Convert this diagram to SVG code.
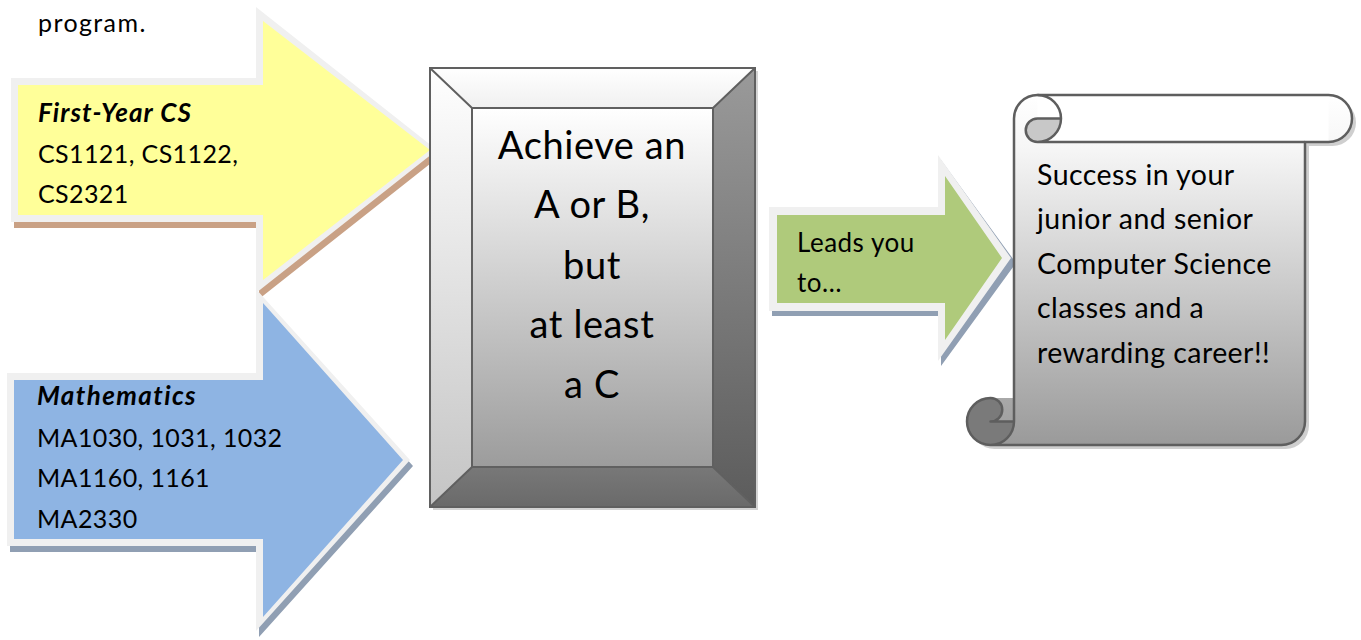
<svg xmlns="http://www.w3.org/2000/svg" width="1361" height="640" viewBox="0 0 1361 640">
<style>
text{font-family:Lato,"Liberation Sans",sans-serif;fill:#000}
.t24{font-size:25px;letter-spacing:0.4px}
.bi{font-weight:bold;font-style:italic;font-size:26px;letter-spacing:1.1px}
.g{font-size:26px;letter-spacing:0.5px}
.border{fill:#f0f0f0}
.c{text-anchor:middle;font-size:38px;letter-spacing:0.6px}
.sc{font-size:28.5px;letter-spacing:0.45px}
.ol{fill:none;stroke:#5e5e5e;stroke-width:2.5;stroke-linejoin:round}
</style>
<defs>
<linearGradient id="face" x1="0" y1="0" x2="0" y2="1"><stop offset="0" stop-color="#ffffff"/><stop offset="1" stop-color="#9c9c9c"/></linearGradient>
<linearGradient id="lbev" x1="0" y1="0" x2="0" y2="1"><stop offset="0" stop-color="#ffffff"/><stop offset="1" stop-color="#c4c4c4"/></linearGradient>
<linearGradient id="rbev" x1="0" y1="0" x2="0" y2="1"><stop offset="0" stop-color="#9a9a9a"/><stop offset="1" stop-color="#5c5c5c"/></linearGradient>
<linearGradient id="tbev" x1="0" y1="0" x2="0" y2="1"><stop offset="0" stop-color="#ffffff"/><stop offset="1" stop-color="#f0f0f0"/></linearGradient>
<linearGradient id="bbev" x1="0" y1="0" x2="0" y2="1"><stop offset="0" stop-color="#787878"/><stop offset="1" stop-color="#6a6a6a"/></linearGradient>
<linearGradient id="scroll" x1="0" y1="0" x2="0" y2="1"><stop offset="0" stop-color="#ffffff"/><stop offset="0.15" stop-color="#f6f6f6"/><stop offset="1" stop-color="#9a9a9a"/></linearGradient>
</defs>

<text x="38" y="32" class="t24" style="letter-spacing:1.4px">program.</text>

<g id="node-firstyear">
<polygon points="14,84 259,84 259,13 440,156 259,299 259,228 14,228" fill="#c9a185"/>
<polygon class="border" points="11,78 256,78 256,7 437,150 256,293 256,222 11,222"/>
<polygon points="18,85 263,85 263,21 430,150 263,280 263,215 18,215" fill="#ffff99"/>
<text x="38" y="122" class="bi">First-Year CS</text>
<text x="38" y="163" class="t24">CS1121, CS1122,</text>
<text x="38" y="203" class="t24">CS2321</text>
</g>

<g id="node-math">
<polygon points="10,379 259,379 259,295 413,466 259,637 259,552 10,552" fill="#909fb3"/>
<polygon class="border" points="7,373 256,373 256,289 410,460 256,631 256,546 7,546"/>
<polygon points="14,380 263,380 263,303 403,460 263,617 263,539 14,539" fill="#8eb4e3"/>
<text x="37" y="405" class="bi" style="letter-spacing:1.4px">Mathematics</text>
<text x="37" y="447" class="t24">MA1030, 1031, 1032</text>
<text x="37" y="487" class="t24">MA1160, 1161</text>
<text x="37" y="528" class="t24">MA2330</text>
</g>

<g id="node-grade">
<rect x="433" y="71" width="325" height="439" fill="#d4d4d4"/>
<polygon points="430,68 755,68 713,108 472,108" fill="url(#tbev)"/>
<polygon points="430,68 472,108 472,467 430,507" fill="url(#lbev)"/>
<polygon points="755,68 755,507 713,467 713,108" fill="url(#rbev)"/>
<polygon points="430,507 472,467 713,467 755,507" fill="url(#bbev)"/>
<rect x="472" y="108" width="241" height="359" fill="url(#face)"/>
<g fill="none" stroke="#606060" stroke-width="2">
<rect x="430" y="68" width="325" height="439"/>
<rect x="472" y="108" width="241" height="359"/>
<path d="M430 68L472 108M755 68L713 108M430 507L472 467M755 507L713 467"/>
</g>
<text x="592" y="159" class="c">Achieve an</text>
<text x="592" y="218" class="c">A or B,</text>
<text x="592" y="279" class="c">but</text>
<text x="592" y="338" class="c">at least</text>
<text x="592" y="398" class="c">a C</text>
</g>

<g id="node-leads">
<polygon points="772,212 941,212 941,160 1016,263 941,366 941,316 772,316" fill="#909fb3"/>
<polygon class="border" points="769,207 938,207 938,155 1011,258 938,361 938,311 769,311"/>
<polygon points="777,215 945,215 945,176 1002,258 945,340 945,303 777,303" fill="#afca7b"/>
<text x="797" y="252" class="g">Leads you</text>
<text x="797" y="292" class="g">to…</text>
</g>

<g id="node-success">
<path d="M1018 122.5A23.5 23.5 0 0 1 1041.5 99L1332.5 99A23.5 23.5 0 0 1 1332.5 146L1309 146L1309 425.5A23.5 23.5 0 0 1 1285.5 449L994.5 449A23.5 23.5 0 0 1 971 425.5A23.5 23.5 0 0 1 994.5 402L1018 402Z" fill="#cfcfcf"/>
<path d="M1014 118.5A23.5 23.5 0 0 1 1037.5 95L1328.5 95A23.5 23.5 0 0 1 1328.5 142L1305 142L1305 421.5A23.5 23.5 0 0 1 1281.5 445L990.5 445A23.5 23.5 0 0 1 967 421.5A23.5 23.5 0 0 1 990.5 398L1014 398Z" fill="url(#scroll)"/>
<rect x="1037.5" y="95" width="291" height="47" fill="#ffffff"/>
<path d="M1037.5 118.5L1061 118.5A23.5 23.5 0 0 1 1037.5 142A11.75 11.75 0 0 1 1037.5 118.5Z" fill="#c8c8c8"/>
<path d="M990.5 421.5L1014 421.5A23.5 23.5 0 0 1 990.5 445A23.5 23.5 0 0 1 967 421.5A23.5 23.5 0 0 1 990.5 398A11.75 11.75 0 0 1 990.5 421.5Z" fill="#7a7a7a"/>
<path class="ol" d="M1014 421.5L1014 118.5A23.5 23.5 0 0 1 1037.5 95L1328.5 95A23.5 23.5 0 0 1 1328.5 142L1305 142L1305 421.5A23.5 23.5 0 0 1 1281.5 445L990.5 445A23.5 23.5 0 0 1 967 421.5A23.5 23.5 0 0 1 990.5 398A11.75 11.75 0 0 1 990.5 421.5L1014 421.5A23.5 23.5 0 0 1 990.5 445"/>
<path class="ol" d="M1037.5 142L1305 142M1037.5 95A23.5 23.5 0 0 1 1037.5 142A11.75 11.75 0 0 1 1037.5 118.5L1061 118.5"/>
<text x="1037" y="185" class="sc">Success in your</text>
<text x="1037" y="229" class="sc">junior and senior</text>
<text x="1037" y="274" class="sc">Computer Science</text>
<text x="1037" y="318" class="sc">classes and a</text>
<text x="1037" y="363" class="sc">rewarding career!!</text>
</g>
<g id="connectors"></g>
</svg>
